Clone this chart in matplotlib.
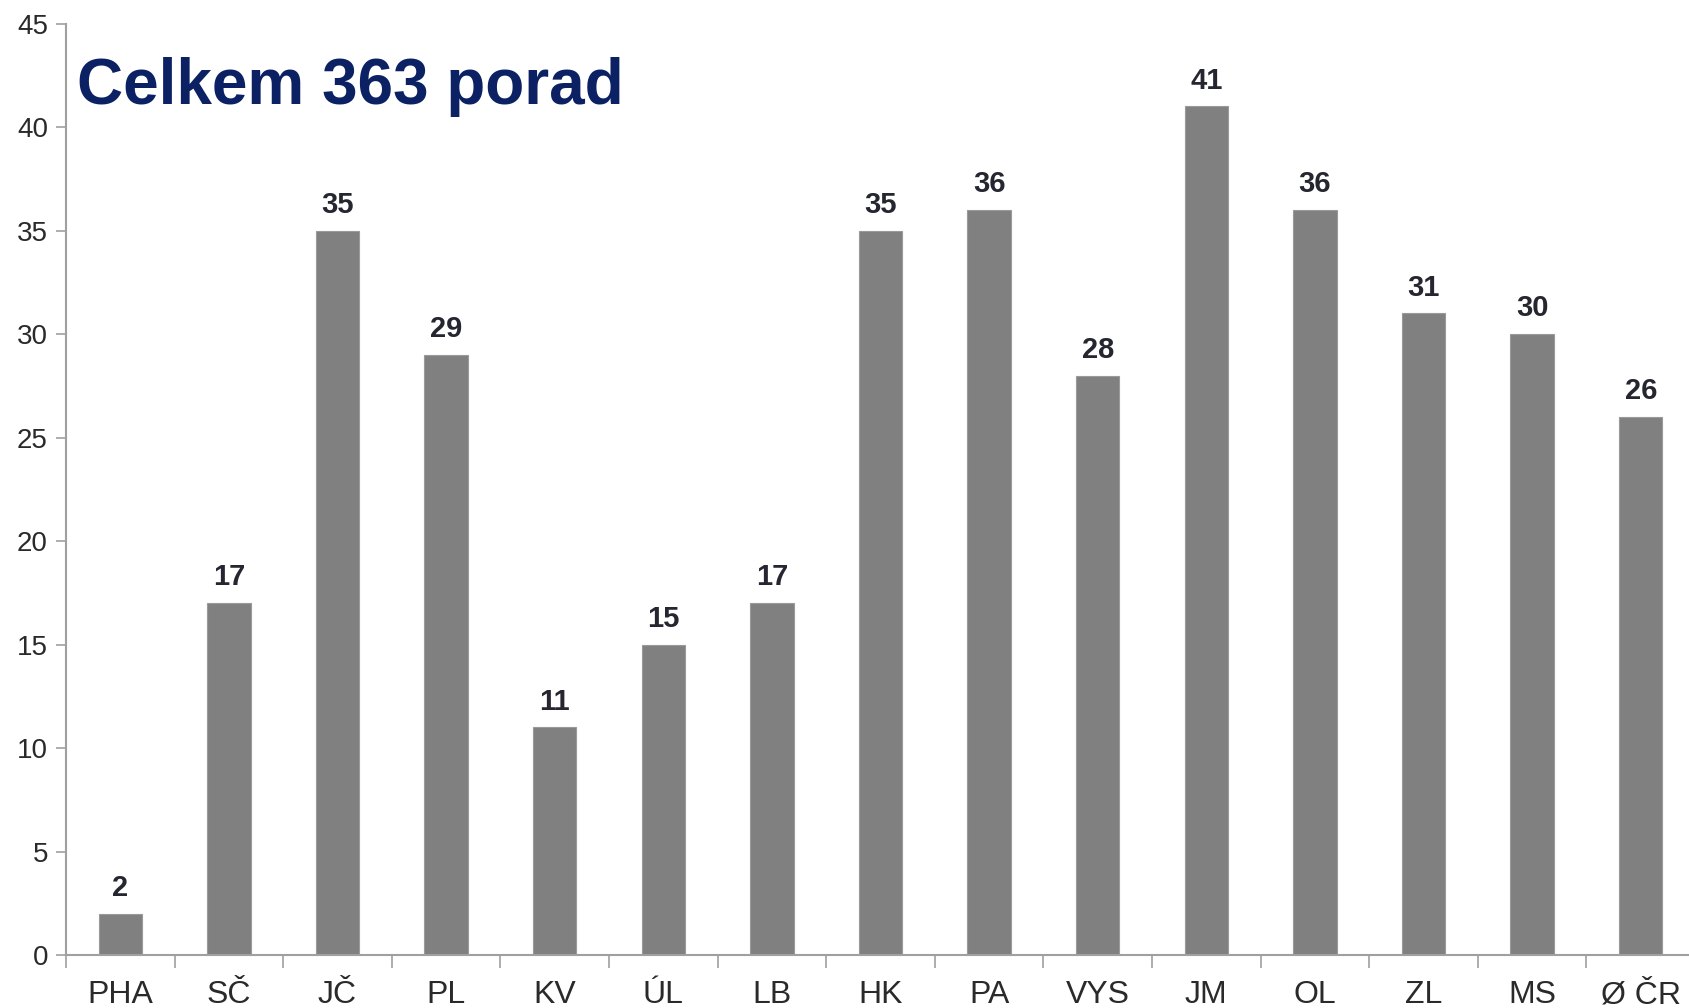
import matplotlib
matplotlib.use("Agg")
import matplotlib.pyplot as plt
import numpy as np

categories = ["PHA", "SČ", "JČ", "PL", "KV", "ÚL", "LB", "HK", "PA", "VYS", "JM", "OL", "ZL", "MS", "Ø ČR"]
values = [2, 17, 35, 29, 11, 15, 17, 35, 36, 28, 41, 36, 31, 30, 26]
yticks = [0, 5, 10, 15, 20, 25, 30, 35, 40, 45]
title = "Celkem 363 porad"

plt.rcParams['font.family'] = ['Liberation Sans', 'DejaVu Sans']

W, H = 1689, 1008
fig = plt.figure(figsize=(W / 100, H / 100), dpi=100)
left = 66 / W
right = 1695 / W
bottom = 1 - 955 / H
top = 1 - 23.7 / H
ax = fig.add_axes([left, bottom, right - left, top - bottom])

x = np.arange(len(categories))
ax.bar(x, values, width=0.4, color="#808080", edgecolor="#9a9a9a", linewidth=0.8, zorder=2)

for xi, v in zip(x, values):
    ax.annotate(str(v), (xi, v), xytext=(0, 8.5), textcoords="offset points",
                ha="center", va="bottom", fontsize=21, fontweight="bold", color="#262630")

ax.set_xlim(-0.5, len(categories) - 0.5)
ax.set_ylim(0, 45)
ax.set_yticks(yticks)
ax.set_yticklabels([str(t) for t in yticks], fontsize=20, color="#2a2a2a")

ax.set_xticks(x)
ax.set_xticklabels(categories, fontsize=23, color="#2a2a2a")
ax.tick_params(axis="x", which="major", length=0, pad=18)
ax.set_xticks(np.arange(len(categories) + 1) - 0.5, minor=True)
ax.tick_params(axis="x", which="minor", length=9, width=1.2, color="#a0a0a0", direction="out")
ax.tick_params(axis="y", length=7, width=1.2, color="#a0a0a0", direction="out", pad=6)

for s in ["top", "right"]:
    ax.spines[s].set_visible(False)
for s in ["left", "bottom"]:
    ax.spines[s].set_color("#a0a0a0")
    ax.spines[s].set_linewidth(1.5)

fig.text(77 / W, 1 - 104 / H, title, fontsize=46, fontweight="bold", color="#0b2163",
         ha="left", va="baseline")

fig.savefig("out.png", dpi=100)
